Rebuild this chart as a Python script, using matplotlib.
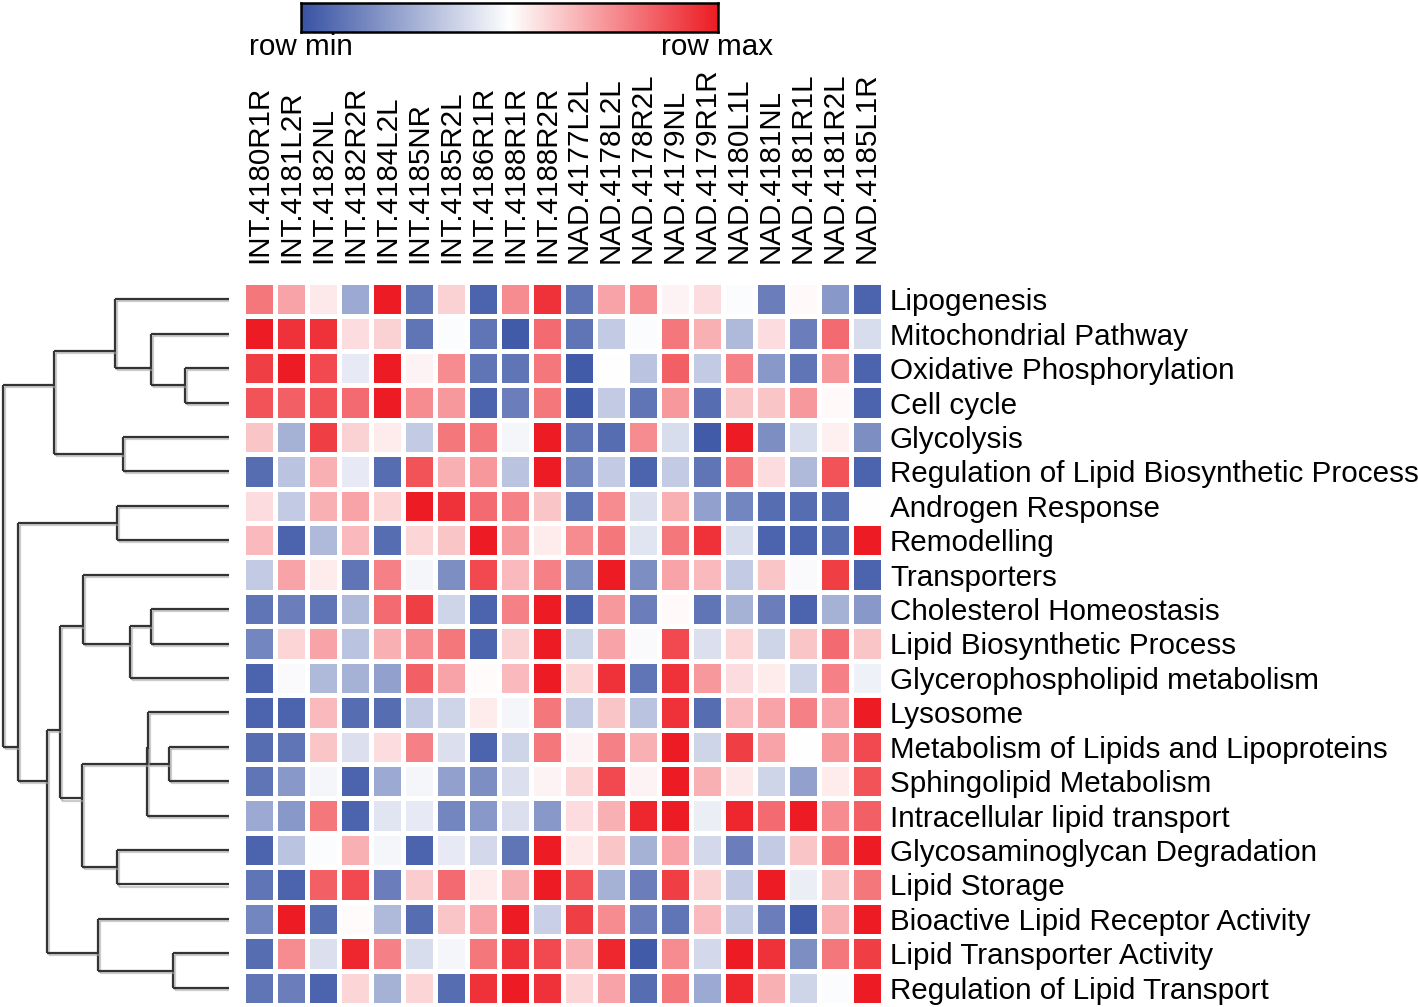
import numpy as np
import matplotlib.pyplot as plt
import matplotlib.patheffects as pe
from matplotlib.colors import LinearSegmentedColormap

plt.rcParams['font.family'] = ['Liberation Sans', 'DejaVu Sans']

columns = ["INT.4180R1R", "INT.4181L2R", "INT.4182NL", "INT.4182R2R", "INT.4184L2L",
           "INT.4185NR", "INT.4185R2L", "INT.4186R1R", "INT.4188R1R", "INT.4188R2R",
           "NAD.4177L2L", "NAD.4178L2L", "NAD.4178R2L", "NAD.4179NL", "NAD.4179R1R",
           "NAD.4180L1L", "NAD.4181NL", "NAD.4181R1L", "NAD.4181R2L", "NAD.4185L1R"]

rows = ["Lipogenesis", "Mitochondrial Pathway", "Oxidative Phosphorylation", "Cell cycle",
        "Glycolysis", "Regulation of Lipid Biosynthetic Process", "Androgen Response",
        "Remodelling", "Transporters", "Cholesterol Homeostasis", "Lipid Biosynthetic Process",
        "Glycerophospholipid metabolism", "Lysosome", "Metabolism of Lipids and Lipoproteins",
        "Sphingolipid Metabolism", "Intracellular lipid transport",
        "Glycosaminoglycan Degradation", "Lipid Storage", "Bioactive Lipid Receptor Activity",
        "Lipid Transporter Activity", "Regulation of Lipid Transport"]

# -1 = row min, +1 = row max
values = np.array([
    [0.60, 0.40, 0.10, -0.50, 1.00, -0.80, 0.20, -0.90, 0.50, 0.90, -0.80, 0.40, 0.50, 0.05, 0.15, -0.02, -0.75, 0.03, -0.60, -0.90],
    [1.00, 0.90, 0.90, 0.15, 0.20, -0.80, -0.02, -0.80, -0.95, 0.65, -0.80, -0.30, -0.02, 0.60, 0.35, -0.40, 0.15, -0.75, 0.65, -0.20],
    [0.85, 1.00, 0.80, -0.12, 1.00, 0.05, 0.50, -0.80, -0.80, 0.60, -0.95, 0.00, -0.35, 0.70, -0.30, 0.55, -0.60, -0.80, 0.45, -0.90],
    [0.75, 0.70, 0.75, 0.65, 1.00, 0.50, 0.45, -0.90, -0.75, 0.60, -0.95, -0.30, -0.80, 0.45, -0.85, 0.25, 0.25, 0.45, 0.03, -0.90],
    [0.25, -0.45, 0.85, 0.20, 0.08, -0.30, 0.60, 0.60, -0.05, 1.00, -0.80, -0.85, 0.50, -0.20, -0.95, 1.00, -0.65, -0.20, 0.07, -0.65],
    [-0.85, -0.35, 0.35, -0.12, -0.85, 0.75, 0.35, 0.45, -0.35, 1.00, -0.70, -0.30, -0.90, -0.30, -0.80, 0.60, 0.15, -0.40, 0.75, -0.90],
    [0.15, -0.30, 0.35, 0.40, 0.18, 1.00, 0.90, 0.65, 0.55, 0.25, -0.80, 0.50, -0.18, 0.35, -0.55, -0.70, -0.85, -0.85, -0.85, 0.00],
    [0.30, -0.90, -0.40, 0.30, -0.85, 0.18, 0.25, 1.00, 0.45, 0.08, 0.50, 0.60, -0.15, 0.60, 0.90, -0.20, -0.90, -0.90, -0.85, 1.00],
    [-0.30, 0.40, 0.08, -0.80, 0.55, -0.05, -0.65, 0.80, 0.30, 0.55, -0.65, 1.00, -0.65, 0.40, 0.30, -0.30, 0.25, -0.03, 0.85, -0.90],
    [-0.80, -0.75, -0.80, -0.40, 0.65, 0.85, -0.25, -0.90, 0.55, 1.00, -0.90, 0.45, -0.75, 0.03, -0.80, -0.45, -0.75, -0.90, -0.45, -0.60],
    [-0.70, 0.18, 0.40, -0.35, 0.35, 0.50, 0.60, -0.90, 0.20, 1.00, -0.25, 0.40, -0.03, 0.80, -0.18, 0.18, -0.25, 0.25, 0.65, 0.25],
    [-0.90, -0.03, -0.40, -0.45, -0.55, 0.70, 0.40, 0.02, 0.30, 1.00, 0.18, 0.90, -0.80, 0.90, 0.45, 0.15, 0.08, -0.25, 0.55, -0.08],
    [-0.90, -0.90, 0.30, -0.85, -0.85, -0.30, -0.25, 0.08, -0.05, 0.60, -0.30, 0.25, -0.35, 0.90, -0.85, 0.30, 0.40, 0.55, 0.40, 1.00],
    [-0.85, -0.80, 0.25, -0.18, 0.15, 0.55, -0.18, -0.90, -0.25, 0.60, 0.05, 0.55, 0.35, 1.00, -0.25, 0.85, 0.40, 0.00, 0.45, 0.80],
    [-0.80, -0.60, -0.05, -0.90, -0.50, -0.05, -0.55, -0.65, -0.18, 0.05, 0.18, 0.80, 0.05, 1.00, 0.35, 0.10, -0.25, -0.55, 0.08, 0.75],
    [-0.50, -0.60, 0.60, -0.90, -0.15, -0.12, -0.70, -0.60, -0.18, -0.60, 0.15, 0.35, 0.95, 1.00, -0.10, 0.95, 0.65, 1.00, 0.50, 0.70],
    [-0.90, -0.35, -0.02, 0.35, -0.05, -0.90, -0.12, -0.22, -0.80, 1.00, 0.10, 0.25, -0.45, 0.40, -0.22, -0.75, -0.30, 0.25, 0.60, 1.00],
    [-0.80, -0.90, 0.70, 0.80, -0.75, 0.22, 0.65, 0.08, 0.35, 1.00, 0.75, -0.45, -0.75, 0.85, 0.20, -0.30, 1.00, -0.10, 0.25, 0.60],
    [-0.70, 1.00, -0.85, 0.02, -0.40, -0.85, 0.25, 0.40, 1.00, -0.28, 0.85, 0.50, -0.75, -0.80, 0.30, -0.30, -0.75, -0.95, 0.35, 1.00],
    [-0.85, 0.50, -0.18, 0.95, 0.55, -0.20, -0.05, 0.60, 0.90, 0.80, 0.35, 0.95, -0.95, 0.50, -0.22, 1.00, 0.90, -0.65, 0.60, 0.85],
    [-0.80, -0.75, -0.90, 0.18, -0.45, 0.18, -0.85, 0.90, 1.00, 0.90, 0.18, 0.40, -0.85, 0.60, -0.50, 0.95, 0.35, -0.25, -0.02, 1.00],
])

# row dendrogram: (child a, child b, height); leaves 0..20, new nodes from 21 on
merges = [
    (2, 3, 44), (1, 21, 78), (0, 22, 114), (4, 5, 106), (23, 24, 175),
    (6, 7, 112), (9, 10, 78), (27, 11, 99), (8, 28, 146),
    (13, 14, 60), (12, 30, 81), (31, 15, 82), (16, 17, 112), (32, 33, 147),
    (29, 34, 169), (19, 20, 56), (18, 36, 131), (35, 37, 182),
    (26, 38, 211), (25, 39, 226),
]

W, H = 1418, 1007
fig = plt.figure(figsize=(W / 100, H / 100), dpi=100)

cmap = LinearSegmentedColormap.from_list("rowscale", ["#3953a4", "#ffffff", "#ed1c24"])
fs = 21.3

hm_left, hm_right, hm_top, hm_bottom = 243, 883, 282, 1005
ax = fig.add_axes([hm_left / W, 1 - hm_bottom / H, (hm_right - hm_left) / W, (hm_bottom - hm_top) / H])
ax.pcolormesh(values, cmap=cmap, vmin=-1, vmax=1, edgecolors="white", linewidth=2.5)
ax.set_xlim(0, len(columns))
ax.set_ylim(len(rows), 0)
ax.set_xticks(np.arange(len(columns)) + 0.5)
ax.set_xticklabels(columns, rotation=90, fontsize=fs, va="bottom", ha="center")
ax.xaxis.tick_top()
ax.tick_params(axis="x", length=0, pad=14)
ax.set_yticks(np.arange(len(rows)) + 0.5)
ax.set_yticklabels(rows, fontsize=fs)
ax.yaxis.tick_right()
ax.tick_params(axis="y", length=0, pad=5)
for s in ax.spines.values():
    s.set_visible(False)

# dendrogram
dax = fig.add_axes([0, 1 - hm_bottom / H, 229 / W, (hm_bottom - hm_top) / H])
n = len(rows)
leaves = {i: [i] for i in range(n)}
height = {i: 0.0 for i in range(n)}
shadow = [pe.SimpleLineShadow(offset=(1.5, -1.5), shadow_color="#aaaaaa", alpha=0.6), pe.Normal()]
for k, (a, b, h) in enumerate(merges):
    node = n + k
    leaves[node] = leaves[a] + leaves[b]
    height[node] = h
    ya = np.mean(leaves[a]) + 0.5
    yb = np.mean(leaves[b]) + 0.5
    dax.plot([h, h], [ya, yb], color="#333333", lw=1.6, path_effects=shadow, solid_capstyle="butt")
    dax.plot([height[a], h], [ya, ya], color="#333333", lw=1.6, path_effects=shadow, solid_capstyle="butt")
    dax.plot([height[b], h], [yb, yb], color="#333333", lw=1.6, path_effects=shadow, solid_capstyle="butt")
dax.set_xlim(229, 0)
dax.set_ylim(n, 0)
dax.axis("off")

# color scale bar
cax = fig.add_axes([301 / W, 1 - 32 / H, 417 / W, 29 / H])
cax.imshow(np.linspace(-1, 1, 256)[None, :], aspect="auto", cmap=cmap, vmin=-1, vmax=1)
cax.set_xticks([])
cax.set_yticks([])
for s in cax.spines.values():
    s.set_linewidth(1.8)
    s.set_color("black")
fig.text(301 / W, 1 - 47 / H, "row min", fontsize=fs, ha="center", va="center")
fig.text(717 / W, 1 - 47 / H, "row max", fontsize=fs, ha="center", va="center")

fig.savefig("out.png", dpi=100)
